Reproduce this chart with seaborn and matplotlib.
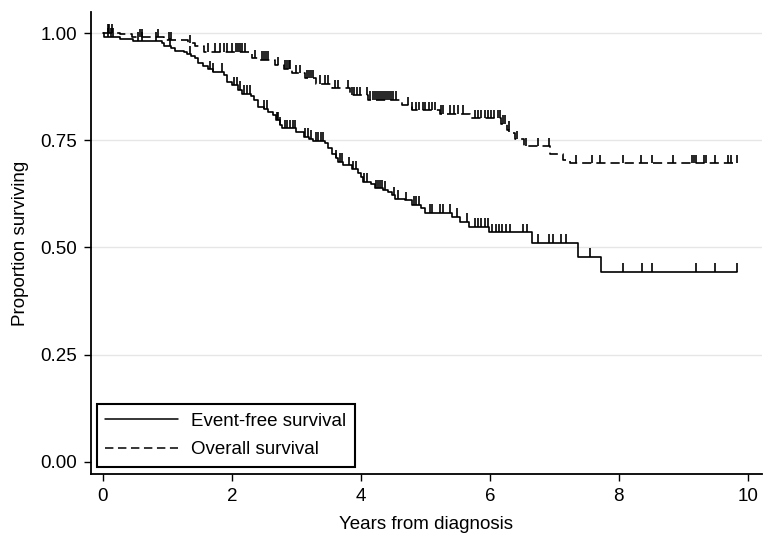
import numpy as np
import pandas as pd
import matplotlib
matplotlib.use("Agg")
import matplotlib.pyplot as plt
import seaborn as sns

# ---- data -------------------------------------------------------------
efs_time = [0.02, 0.26, 0.47, 0.91, 0.95, 1.06, 1.12, 1.25, 1.30, 1.37,
            1.43, 1.48, 1.55, 1.63, 1.70, 1.87, 1.92, 2.00, 2.10, 2.15,
            2.30, 2.35, 2.41, 2.49, 2.56, 2.64, 2.69, 2.74, 2.77, 3.00,
            3.11, 3.20, 3.26, 3.44, 3.49, 3.55, 3.61, 3.65, 3.73, 3.86,
            3.96, 4.00, 4.04, 4.15, 4.22, 4.35, 4.42, 4.48, 4.53, 4.68,
            4.79, 4.94, 4.99, 5.41, 5.53, 5.68, 5.99, 6.65, 7.37, 7.72]
efs_surv = [0.991, 0.987, 0.982, 0.976, 0.969, 0.964, 0.958, 0.955, 0.950, 0.946,
            0.941, 0.929, 0.923, 0.915, 0.910, 0.902, 0.886, 0.878, 0.868, 0.859,
            0.853, 0.843, 0.828, 0.824, 0.816, 0.809, 0.797, 0.785, 0.778, 0.770,
            0.758, 0.754, 0.749, 0.743, 0.731, 0.719, 0.708, 0.700, 0.692, 0.682,
            0.673, 0.665, 0.653, 0.648, 0.638, 0.634, 0.630, 0.622, 0.614, 0.610,
            0.599, 0.591, 0.581, 0.571, 0.560, 0.548, 0.535, 0.511, 0.478, 0.443]
efs_censor = [0.08, 0.12, 0.16, 0.55, 0.60, 0.83, 1.04, 1.35, 1.66, 1.71, 1.84,
              2.03, 2.08, 2.13, 2.18, 2.23, 2.28, 2.50, 2.54, 2.70, 2.72, 2.75,
              2.82, 2.86, 2.90, 2.94, 2.98, 3.14, 3.18, 3.22, 3.30, 3.34, 3.38,
              3.42, 3.62, 3.67, 3.70, 3.81, 3.88, 3.92, 4.05, 4.09, 4.24, 4.27,
              4.30, 4.33, 4.38, 4.51, 4.58, 4.70, 4.82, 4.86, 4.90, 5.07, 5.10,
              5.22, 5.27, 5.38, 5.49, 5.64, 5.77, 5.82, 5.87, 5.92, 5.97, 6.04,
              6.09, 6.14, 6.19, 6.25, 6.31, 6.52, 6.57, 6.75, 6.92, 6.98, 7.11,
              7.18, 7.56, 8.06, 8.36, 8.52, 9.20, 9.49, 9.83]

os_time = [0.26, 0.45, 0.95, 1.32, 1.43, 1.56, 2.31, 2.43, 2.67, 2.80,
           2.93, 3.13, 3.31, 3.55, 3.83, 4.11, 4.63, 4.79, 5.22, 5.69,
           6.18, 6.26, 6.30, 6.39, 6.53, 6.94, 7.13, 7.24]
os_surv = [0.997, 0.990, 0.983, 0.976, 0.969, 0.956, 0.941, 0.937, 0.925, 0.917,
           0.906, 0.894, 0.882, 0.871, 0.855, 0.844, 0.832, 0.820, 0.812, 0.801,
           0.789, 0.774, 0.766, 0.752, 0.736, 0.717, 0.705, 0.696]
os_censor = [0.08, 0.10, 0.14, 0.57, 0.60, 0.85, 1.02, 1.06, 1.35, 1.63, 1.74,
             1.81, 1.87, 1.92, 2.00, 2.07, 2.10, 2.13, 2.16, 2.20, 2.36, 2.46,
             2.50, 2.53, 2.56, 2.72, 2.82, 2.85, 2.88, 2.90, 3.00, 3.05, 3.16,
             3.19, 3.22, 3.26, 3.36, 3.44, 3.49, 3.60, 3.64, 3.80, 3.86, 3.90,
             3.94, 3.98, 4.09, 4.14, 4.19, 4.22, 4.25, 4.28, 4.31, 4.34, 4.37,
             4.40, 4.43, 4.46, 4.50, 4.55, 4.73, 4.80, 4.85, 4.90, 4.96, 5.00,
             5.05, 5.10, 5.15, 5.24, 5.27, 5.38, 5.44, 5.50, 5.58, 5.77, 5.82,
             5.87, 5.92, 5.97, 6.02, 6.07, 6.12, 6.16, 6.20, 6.24, 6.29, 6.42,
             6.56, 6.75, 6.92, 7.34, 7.58, 7.71, 8.07, 8.35, 8.51, 8.84, 9.14,
             9.17, 9.19, 9.32, 9.35, 9.49, 9.69, 9.74, 9.83]

follow_up_end = 9.83
labels = ["Event-free survival", "Overall survival"]
x_ticks = [0, 2, 4, 6, 8, 10]
y_ticks = [0.00, 0.25, 0.50, 0.75, 1.00]

# ---- style --------------------------------------------------------------
sns.set_theme(style="ticks")
plt.rcParams['font.family'] = ['Liberation Sans', 'DejaVu Sans']
FS = 13.5


def step_frame(times, surv, label):
    t = [0.0] + list(times) + [follow_up_end]
    s = [1.0] + list(surv) + [surv[-1]]
    return pd.DataFrame({"Years": t, "Survival": s, "Curve": label})


def surv_at(times, surv, t):
    full_t = np.array([0.0] + list(times))
    full_s = np.array([1.0] + list(surv))
    idx = np.searchsorted(full_t, np.asarray(t), side="right") - 1
    return full_s[idx]


df = pd.concat([step_frame(efs_time, efs_surv, labels[0]),
                step_frame(os_time, os_surv, labels[1])], ignore_index=True)

fig = plt.figure(figsize=(7.73, 5.48), dpi=100)
ax = fig.add_axes([0.1177, 0.135, 0.868, 0.843])

dash_pat = (5.5, 3.0)
sns.lineplot(data=df, x="Years", y="Survival", hue="Curve", style="Curve",
             palette={labels[0]: "black", labels[1]: "black"},
             dashes={labels[0]: "", labels[1]: dash_pat},
             drawstyle="steps-post", estimator=None, linewidth=1.2,
             ax=ax, legend=True)

# censoring marks (small upward ticks)
tick_h = 0.02
for times, surv, cens in [(efs_time, efs_surv, efs_censor),
                          (os_time, os_surv, os_censor)]:
    s = surv_at(times, surv, cens)
    ax.vlines(cens, s, s + tick_h, color="black", linewidth=1.2)

ax.set_xlim(-0.186, 10.22)
ax.set_ylim(-0.0287, 1.049)
ax.set_xticks(x_ticks)
ax.set_yticks(y_ticks)
ax.set_yticklabels([f"{v:.2f}" for v in y_ticks])
ax.set_xlabel("Years from diagnosis", fontsize=FS, labelpad=8, color="black")
ax.set_ylabel("Proportion surviving", fontsize=FS, labelpad=8, color="black")
ax.tick_params(axis="both", direction="out", length=5, width=1.0,
               color="black", labelsize=FS, pad=5, labelcolor="black")

ax.yaxis.grid(True, color="#e6e6e6", linewidth=1.0)
ax.get_ygridlines()[0].set_visible(False)
ax.set_axisbelow(True)

for side in ["top", "right"]:
    ax.spines[side].set_visible(False)
for side in ["left", "bottom"]:
    ax.spines[side].set_color("black")
    ax.spines[side].set_linewidth(1.3)

handles, labs = ax.get_legend_handles_labels()
leg = ax.legend(handles, labs, loc="lower left", bbox_to_anchor=(0.0085, 0.016),
                fontsize=FS, frameon=True, fancybox=False, framealpha=1,
                edgecolor="black", handlelength=3.9, handletextpad=0.7,
                borderpad=0.45, labelspacing=0.6, borderaxespad=0)
leg.get_frame().set_linewidth(1.5)
for text in leg.get_texts():
    text.set_color("black")
for line in leg.get_lines():
    line.set_linewidth(1.1)

fig.savefig("out.png", dpi=100)
